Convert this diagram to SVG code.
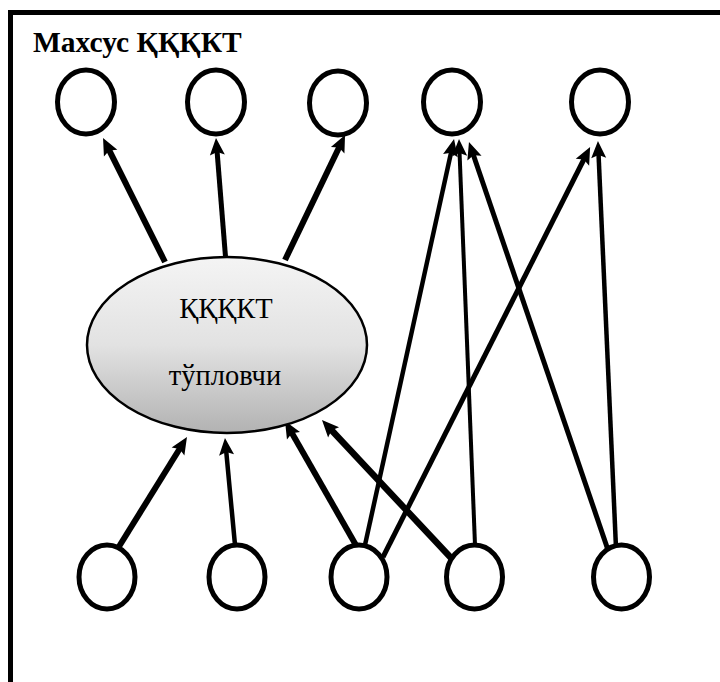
<svg xmlns="http://www.w3.org/2000/svg" width="720" height="682" viewBox="0 0 720 682">
<defs>
<linearGradient id="g" x1="0" y1="0" x2="0" y2="1">
<stop offset="0" stop-color="#f4f4f4"/>
<stop offset="0.5" stop-color="#e2e2e2"/>
<stop offset="1" stop-color="#b2b2b2"/>
</linearGradient>
<marker id="ah" markerUnits="userSpaceOnUse" markerWidth="20" markerHeight="18" viewBox="0 -9 18 18" refX="7" refY="0" orient="auto">
<path d="M0,-7.5 L17,0 L0,7.5 L3,0 Z" fill="#000"/>
</marker>
<style>
.c{fill:#fff;stroke:#000;stroke-width:5}
.a{fill:none;stroke:#000;marker-end:url(#ah)}
.t{font-family:"Liberation Serif","Times New Roman",serif;fill:#000}
</style>
</defs>
<rect x="10.5" y="12.5" width="800" height="800" fill="none" stroke="#000" stroke-width="5"/>
<text class="t" x="33" y="52" font-size="29.5" font-weight="bold">Махсус ҚҚҚКТ</text>
<g id="connectors">
<line class="a" stroke-width="6" x1="165" y1="262" x2="107.5" y2="146.9"/>
<line class="a" stroke-width="5" x1="226" y1="263" x2="216.8" y2="148"/>
<line class="a" stroke-width="6" x1="285" y1="260" x2="340.7" y2="144"/>
<line class="a" stroke-width="6" x1="115" y1="553" x2="181.7" y2="445.5"/>
<line class="a" stroke-width="4.5" x1="235" y1="545" x2="225.9" y2="448"/>
<line class="a" stroke-width="6" x1="357" y1="547" x2="290" y2="429.7"/>
<line class="a" stroke-width="6.5" x1="453" y1="560" x2="328.8" y2="427.3"/>
<line class="a" stroke-width="4.5" x1="365" y1="545" x2="451.9" y2="148.8"/>
<line class="a" stroke-width="4" x1="475" y1="545" x2="459.4" y2="149"/>
<line class="a" stroke-width="4.5" x1="616" y1="548" x2="598.4" y2="151"/>
<line class="a" stroke-width="5" x1="383" y1="557" x2="585.6" y2="156"/>
<line class="a" stroke-width="5" x1="608" y1="550" x2="472.2" y2="151.5"/>
</g>
<g id="hub">
<ellipse cx="227" cy="345" rx="140" ry="88" fill="url(#g)" stroke="#000" stroke-width="2.5"/>
<text class="t" x="226" y="318" font-size="28.5" text-anchor="middle">ҚҚҚКТ</text>
<text class="t" x="225" y="385" font-size="28.5" text-anchor="middle">тўпловчи</text>
</g>
<g id="t1"><ellipse class="c" cx="86" cy="102" rx="28.5" ry="32"/></g>
<g id="t2"><ellipse class="c" cx="216" cy="102" rx="28.5" ry="32"/></g>
<g id="t3"><ellipse class="c" cx="338" cy="103" rx="28.5" ry="32"/></g>
<g id="t4"><ellipse class="c" cx="452" cy="102" rx="28.5" ry="32"/></g>
<g id="t5"><ellipse class="c" cx="600" cy="102" rx="28.5" ry="32"/></g>
<g id="b1"><ellipse class="c" cx="107" cy="577" rx="28" ry="32"/></g>
<g id="b2"><ellipse class="c" cx="237" cy="577" rx="28" ry="32"/></g>
<g id="b3"><ellipse class="c" cx="359" cy="577" rx="28" ry="32"/></g>
<g id="b4"><ellipse class="c" cx="474.5" cy="577" rx="28" ry="32"/></g>
<g id="b5"><ellipse class="c" cx="621.5" cy="577" rx="28" ry="32"/></g>
</svg>
